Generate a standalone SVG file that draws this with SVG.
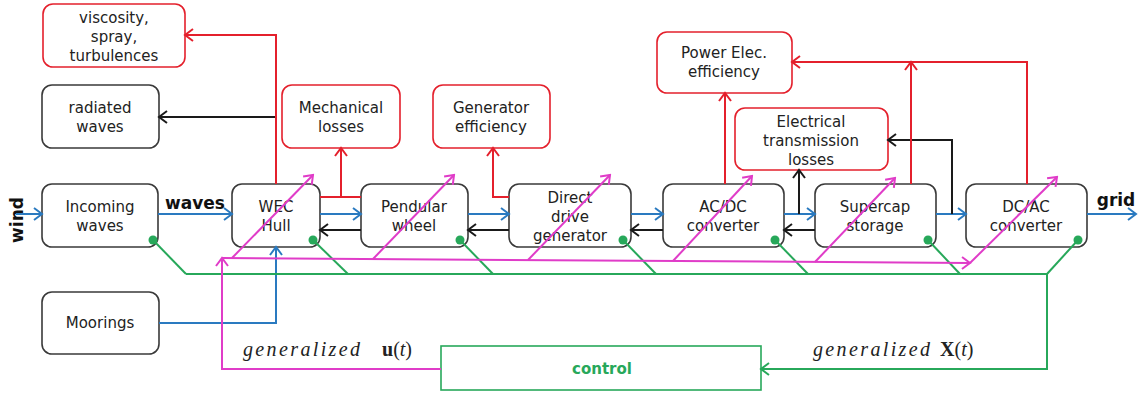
<svg xmlns="http://www.w3.org/2000/svg" width="1143" height="398" viewBox="0 0 1143 398">
<style>
.box{fill:#fff;stroke:#3a3a3a;stroke-width:1.6}
.rbox{fill:#fff;stroke:#e4202c;stroke-width:1.6}
.t{font-family:"DejaVu Sans",Verdana,sans-serif;font-size:15px;fill:#222;text-anchor:middle;dominant-baseline:central}
.lb{font-family:"DejaVu Sans",Verdana,sans-serif;font-size:17px;font-weight:bold;fill:#111;text-anchor:middle}
.m{font-family:"Liberation Serif","DejaVu Serif",serif;font-size:20px;fill:#222}
.c{fill:none;stroke-width:2}
.blue{stroke:#2a7ac0}.red{stroke:#e4202c}.blk{stroke:#1a1a1a}.mag{stroke:#e03cc8}.grn{stroke:#27a85a}
.dot{fill:#27a85a}
</style>
<defs>
<marker id="ab" markerUnits="userSpaceOnUse" markerWidth="12" markerHeight="14" refX="10" refY="7" orient="auto"><path d="M2,1 L10,7 L2,13" fill="none" stroke="#2a7ac0" stroke-width="2"/></marker>
<marker id="ar" markerUnits="userSpaceOnUse" markerWidth="12" markerHeight="14" refX="10" refY="7" orient="auto"><path d="M2,1 L10,7 L2,13" fill="none" stroke="#e4202c" stroke-width="2"/></marker>
<marker id="ak" markerUnits="userSpaceOnUse" markerWidth="12" markerHeight="14" refX="10" refY="7" orient="auto"><path d="M2,1 L10,7 L2,13" fill="none" stroke="#1a1a1a" stroke-width="2"/></marker>
<marker id="am" markerUnits="userSpaceOnUse" markerWidth="12" markerHeight="14" refX="10" refY="7" orient="auto"><path d="M2,1 L10,7 L2,13" fill="none" stroke="#e03cc8" stroke-width="2"/></marker>
<marker id="ag" markerUnits="userSpaceOnUse" markerWidth="12" markerHeight="14" refX="10" refY="7" orient="auto"><path d="M2,1 L10,7 L2,13" fill="none" stroke="#27a85a" stroke-width="2"/></marker>
</defs>

<g id="viscosity">
<rect class="rbox" x="43" y="4" width="142" height="63" rx="10"/>
<text class="t" x="114" y="18">viscosity,</text>
<text class="t" x="114" y="37">spray,</text>
<text class="t" x="114" y="56">turbulences</text>
</g>
<g id="radiated">
<rect class="box" x="42" y="85" width="117" height="63" rx="10"/>
<text class="t" x="100" y="108">radiated</text>
<text class="t" x="100" y="127">waves</text>
</g>
<g id="mechanical">
<rect class="rbox" x="282" y="85" width="118" height="63" rx="10"/>
<text class="t" x="341" y="108">Mechanical</text>
<text class="t" x="341" y="127">losses</text>
</g>
<g id="generator-eff">
<rect class="rbox" x="433" y="85" width="117" height="63" rx="10"/>
<text class="t" x="491" y="108">Generator</text>
<text class="t" x="491" y="127">efficiency</text>
</g>
<g id="power-elec">
<rect class="rbox" x="657" y="32" width="135" height="61" rx="10"/>
<text class="t" x="724" y="53">Power Elec.</text>
<text class="t" x="724" y="72">efficiency</text>
</g>
<g id="elec-trans">
<rect class="rbox" x="735" y="108" width="153" height="62" rx="10"/>
<text class="t" x="811" y="122">Electrical</text>
<text class="t" x="811" y="141">transmission</text>
<text class="t" x="811" y="160">losses</text>
</g>

<g id="incoming">
<rect class="box" x="42" y="184" width="116" height="63" rx="10"/>
<text class="t" x="100" y="207">Incoming</text>
<text class="t" x="100" y="226">waves</text>
</g>
<g id="wec">
<rect class="box" x="232" y="184" width="88" height="63" rx="10"/>
<text class="t" x="276" y="207">WEC</text>
<text class="t" x="276" y="226">Hull</text>
</g>
<g id="pendular">
<rect class="box" x="361" y="184" width="107" height="63" rx="10"/>
<text class="t" x="414" y="207">Pendular</text>
<text class="t" x="414" y="226">wheel</text>
</g>
<g id="ddg">
<rect class="box" x="509" y="184" width="122" height="63" rx="10"/>
<text class="t" x="570" y="198">Direct</text>
<text class="t" x="570" y="217">drive</text>
<text class="t" x="570" y="236">generator</text>
</g>
<g id="acdc">
<rect class="box" x="663" y="184" width="121" height="63" rx="10"/>
<text class="t" x="723" y="207">AC/DC</text>
<text class="t" x="723" y="226">converter</text>
</g>
<g id="supercap">
<rect class="box" x="815" y="184" width="121" height="63" rx="10"/>
<text class="t" x="875" y="207">Supercap</text>
<text class="t" x="875" y="226">storage</text>
</g>
<g id="dcac">
<rect class="box" x="966" y="184" width="121" height="63" rx="10"/>
<text class="t" x="1026" y="207">DC/AC</text>
<text class="t" x="1026" y="226">converter</text>
</g>
<g id="moorings">
<rect class="box" x="42" y="292" width="117" height="62" rx="10"/>
<text class="t" x="100" y="323">Moorings</text>
</g>
<g id="control">
<rect x="441" y="346" width="320" height="44" fill="#fff" stroke="#27a85a" stroke-width="1.6"/>
<text x="602" y="369" font-family="DejaVu Sans,Verdana,sans-serif" font-size="15" font-weight="bold" fill="#27a85a" text-anchor="middle" dominant-baseline="central">control</text>
</g>

<g id="labels">
<text class="lb" transform="rotate(-90 17 220)" x="17" y="226">wind</text>
<text class="lb" x="195" y="209">waves</text>
<text class="lb" x="1116" y="206">grid</text>
<text class="m" x="243" y="356"><tspan font-style="italic" textLength="117" lengthAdjust="spacing">generalized</tspan><tspan x="382" font-weight="bold">u</tspan>(<tspan font-style="italic">t</tspan>)</text>
<text class="m" x="813" y="356"><tspan font-style="italic" textLength="117" lengthAdjust="spacing">generalized</tspan><tspan x="940" font-weight="bold">X</tspan>(<tspan font-style="italic">t</tspan>)</text>
</g>

<g id="connectors">
<g class="c blue">
<path d="M16,214 H42" marker-end="url(#ab)"/>
<path d="M158,214 H232" marker-end="url(#ab)"/>
<path d="M320,214 H361" marker-end="url(#ab)"/>
<path d="M468,214 H509" marker-end="url(#ab)"/>
<path d="M631,214 H663" marker-end="url(#ab)"/>
<path d="M784,214 H815" marker-end="url(#ab)"/>
<path d="M936,214 H966" marker-end="url(#ab)"/>
<path d="M1087,214 H1136" marker-end="url(#ab)"/>
<path d="M159,323 H276 V247" marker-end="url(#ab)"/>
</g>
<g class="c blk">
<path d="M361,230 H320" marker-end="url(#ak)"/>
<path d="M509,230 H468" marker-end="url(#ak)"/>
<path d="M663,230 H631" marker-end="url(#ak)"/>
<path d="M815,230 H784" marker-end="url(#ak)"/>
<path d="M276,117 H159" marker-end="url(#ak)"/>
<path d="M799,214 V170" marker-end="url(#ak)"/>
<path d="M952,214 V140 H888" marker-end="url(#ak)"/>
</g>
<g class="c red">
<path d="M276,184 V35 H185" marker-end="url(#ar)"/>
<path d="M320,197 H361"/>
<path d="M341,197 V148" marker-end="url(#ar)"/>
<path d="M509,197 H493 V148" marker-end="url(#ar)"/>
<path d="M725,184 V93" marker-end="url(#ar)"/>
<path d="M911,184 V62" marker-end="url(#ar)"/>
<path d="M1027,184 V62 H792" marker-end="url(#ar)"/>
</g>
<g class="c grn">
<path d="M153,240 L186,274"/>
<path d="M313,240 L348,274"/>
<path d="M460,240 L493,274"/>
<path d="M623,240 L656,274"/>
<path d="M775,240 L808,274"/>
<path d="M928,240 L960,274"/>
<path d="M1078,240 L1047,274"/>
<path d="M186,274 H1047 V369 H761" marker-end="url(#ag)"/>
</g>
<g class="c mag">
<path d="M441,369 H222 V258" marker-end="url(#am)"/>
<path d="M222,258 L970,263" marker-end="url(#am)"/>
<path d="M232,258 L313,175" marker-end="url(#am)"/>
<path d="M373,259 L454,175" marker-end="url(#am)"/>
<path d="M528,260 L610,175" marker-end="url(#am)"/>
<path d="M673,261 L752,176" marker-end="url(#am)"/>
<path d="M815,262 L895,178" marker-end="url(#am)"/>
<path d="M970,263 L1057,177" marker-end="url(#am)"/>
</g>
<g class="dot">
<circle cx="153" cy="240" r="4.5"/>
<circle cx="313" cy="240" r="4.5"/>
<circle cx="460" cy="240" r="4.5"/>
<circle cx="623" cy="240" r="4.5"/>
<circle cx="775" cy="240" r="4.5"/>
<circle cx="928" cy="240" r="4.5"/>
<circle cx="1078" cy="240" r="4.5"/>
</g>
</g>
</svg>
